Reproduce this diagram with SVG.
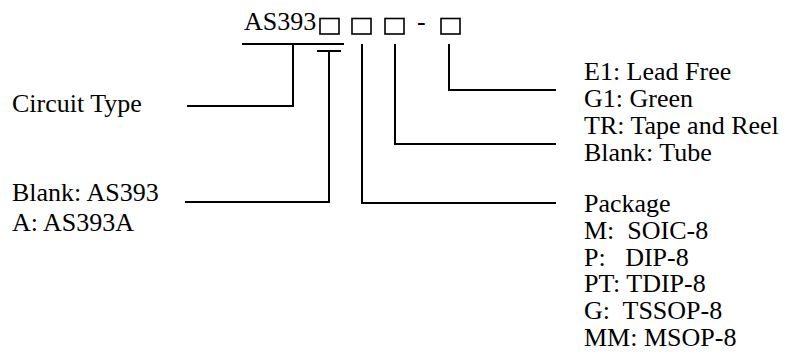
<svg xmlns="http://www.w3.org/2000/svg" width="789" height="356" viewBox="0 0 789 356">
<style>
text{font-family:"Liberation Serif","Times New Roman",Times,serif;font-size:26px;fill:#000}
.ln{fill:none;stroke:#000;stroke-width:2}
.box{fill:none;stroke:#000;stroke-width:1.6}
</style>
<rect width="789" height="356" fill="#fff"/>
<g id="code">
<text x="244" y="30">AS393</text>
<rect class="box" x="320" y="18.5" width="19" height="15.5"/>
<rect class="box" x="352" y="18.5" width="19" height="15.5"/>
<rect class="box" x="385" y="18.5" width="19" height="15.5"/>
<text x="417" y="30">-</text>
<rect class="box" x="441" y="18.5" width="19" height="15.5"/>
</g>
<g id="connectors">
<path class="ln" d="M242 44H344"/>
<path class="ln" d="M293 44V106H187"/>
<path class="ln" d="M317 51H341M329 51V202H185"/>
<path class="ln" d="M362 44V203H556"/>
<path class="ln" d="M395 44V144H556"/>
<path class="ln" d="M449 44V90H556"/>
</g>
<g id="circuit-type"><text x="12" y="112">Circuit Type</text></g>
<g id="version"><text x="12" y="201">Blank: AS393</text><text x="12" y="231">A: AS393A</text></g>
<g id="lead"><text x="584" y="80">E1: Lead Free</text><text x="584" y="107">G1: Green</text></g>
<g id="packing"><text x="584" y="134">TR: Tape and Reel</text><text x="584" y="161">Blank: Tube</text></g>
<g id="package"><text x="584" y="212">Package</text><text x="584" y="238.8" xml:space="preserve">M:  SOIC-8</text><text x="584" y="265.6" xml:space="preserve">P:   DIP-8</text><text x="584" y="292.4">PT: TDIP-8</text><text x="584" y="319.2" xml:space="preserve">G:  TSSOP-8</text><text x="584" y="346">MM: MSOP-8</text></g>
</svg>
